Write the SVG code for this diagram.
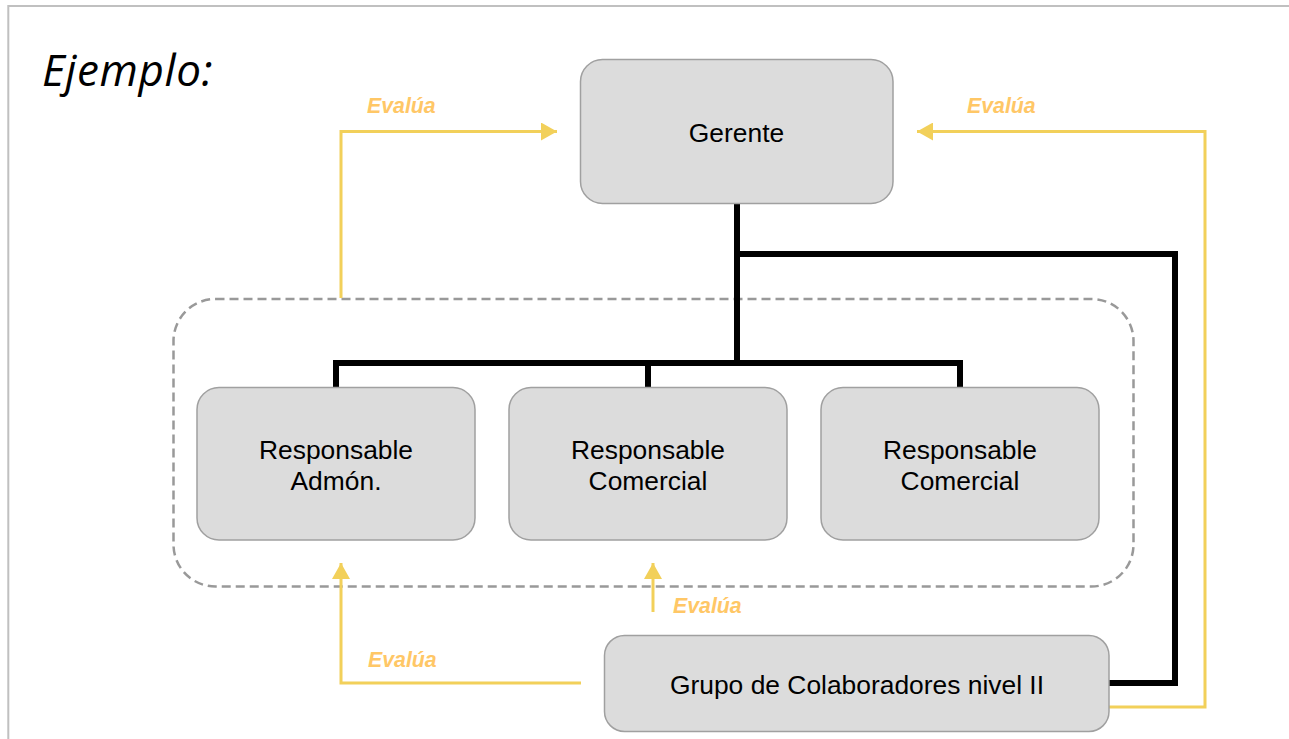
<svg xmlns="http://www.w3.org/2000/svg" width="1289" height="739" viewBox="0 0 1289 739">
  <style>
    .box { fill: #dcdcdc; stroke: #a0a0a0; stroke-width: 1.5; }
    .lbl { font-family: "Liberation Sans", Arial, sans-serif; font-size: 26.4px; fill: #000; text-anchor: middle; }
    .ev { font-family: "Liberation Sans", Arial, sans-serif; font-size: 21.3px; font-weight: bold; font-style: italic; fill: #ffc766; }
    .blk { fill: none; stroke: #000; stroke-width: 6; stroke-linejoin: miter; }
    .yel { fill: none; stroke: #f2d05a; stroke-width: 3; }
  </style>
  <defs>
    <marker id="arr" viewBox="0 0 16 18" refX="16" refY="9" markerWidth="16" markerHeight="18" markerUnits="userSpaceOnUse" orient="auto">
      <path d="M0,0 L16,9 L0,18 Z" fill="#f2d05a"/>
    </marker>
  </defs>
  <rect width="1289" height="739" fill="#fff"/>
  <path d="M8.3,739 V6 H1289" fill="none" stroke="#c0c0c0" stroke-width="2"/>
  <text x="42" y="86" font-family="'Open Sans', 'Noto Sans', sans-serif" font-style="italic" font-size="44" letter-spacing="0.6" fill="#000">Ejemplo:</text>

  <rect id="grupo-frame" x="173.5" y="299" width="960" height="287.5" rx="42" ry="42" fill="none" stroke="#999" stroke-width="2.5" stroke-dasharray="9 5"/>

  <g id="connectors">
    <path class="blk" d="M737,204 V363"/>
    <path class="blk" d="M336,388 V363 H960 V388"/>
    <path class="blk" d="M648,363 V388"/>
    <path class="blk" d="M737,254 H1175 V683 H1109"/>
    <path class="yel" d="M341,298 V131.5 H557" marker-end="url(#arr)"/>
    <path class="yel" d="M1109,707 H1205 V131.5 H917" marker-end="url(#arr)"/>
    <path class="yel" d="M581,683 H341 V563" marker-end="url(#arr)"/>
    <path class="yel" d="M653,612 V563" marker-end="url(#arr)"/>
    <text class="ev" x="367" y="113">Evalúa</text>
    <text class="ev" x="967" y="113">Evalúa</text>
    <text class="ev" x="673" y="613">Evalúa</text>
    <text class="ev" x="368" y="667">Evalúa</text>
  </g>

  <g id="gerente">
    <rect class="box" x="580.5" y="59.5" width="312.5" height="144" rx="22"/>
    <text class="lbl" x="736.5" y="141.5">Gerente</text>
  </g>
  <g id="resp-admon">
    <rect class="box" x="197" y="387.5" width="278" height="152.5" rx="22"/>
    <text class="lbl" x="336" y="459">Responsable</text>
    <text class="lbl" x="336" y="490">Admón.</text>
  </g>
  <g id="resp-comercial-1">
    <rect class="box" x="509" y="387.5" width="278" height="152.5" rx="22"/>
    <text class="lbl" x="648" y="459">Responsable</text>
    <text class="lbl" x="648" y="490">Comercial</text>
  </g>
  <g id="resp-comercial-2">
    <rect class="box" x="821" y="387.5" width="278" height="152.5" rx="22"/>
    <text class="lbl" x="960" y="459">Responsable</text>
    <text class="lbl" x="960" y="490">Comercial</text>
  </g>
  <g id="grupo">
    <rect class="box" x="604.5" y="635.5" width="504.5" height="96" rx="20"/>
    <text class="lbl" x="857" y="694">Grupo de Colaboradores nivel II</text>
  </g>
</svg>
